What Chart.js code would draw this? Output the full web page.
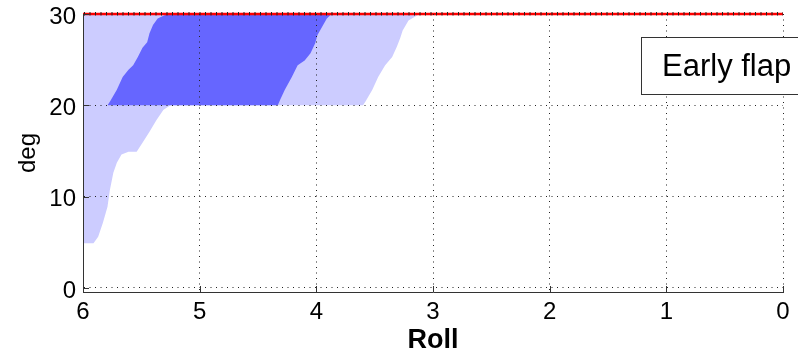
<!DOCTYPE html>
<html>
<head>
<meta charset="utf-8">
<script src="https://cdn.jsdelivr.net/npm/chart.js@4.4.0/dist/chart.umd.min.js"></script>
<style>
  html, body { margin: 0; padding: 0; background: #fff; }
  canvas { display: block; }
</style>
</head>
<body>
<canvas id="c" width="798" height="354"></canvas>
<script>
// Axis ticks
const xTicks = [6, 5, 4, 3, 2, 1, 0];
const yTicks = [0, 10, 20, 30];

// Outer (light) envelope: lower edge, filled up to the 30 deg limit
const lightEdgeRoll = [6, 5.91, 5.87, 5.83, 5.79, 5.77, 5.74, 5.71, 5.67, 5.61, 5.54, 5.49, 5.43, 5.37, 5.31, 5.25,
                       3.60, 3.58, 3.52, 3.47, 3.41, 3.35, 3.31, 3.28, 3.26, 3.21, 3.17, 3.13, 3.10];
const lightEdgeDeg  = [4.9, 4.9, 5.6, 7.1, 8.9, 10.7, 12.6, 13.7, 14.6, 14.9, 14.9, 15.9, 17.1, 18.4, 19.5, 20,
                       20, 20.4, 21.7, 23.1, 24.4, 25.3, 26.4, 27.4, 28.2, 29.3, 29.6, 29.9, 30];

// Inner (dark) band: upper edge
const darkTopRoll = [5.79, 5.77, 5.71, 5.66, 5.61, 5.57, 5.53, 5.49, 5.45, 5.43, 5.40, 5.36, 5.31, 5.28, 3.87];
const darkTopDeg  = [20, 20.4, 21.7, 23.1, 23.9, 24.4, 25.3, 26.3, 26.9, 27.9, 28.8, 29.5, 29.8, 30, 30];

// Inner (dark) band: lower edge
const darkBaseRoll = [5.79, 4.33, 4.31, 4.27, 4.21, 4.16, 4.10, 4.05, 4.01, 3.99, 3.95, 3.91, 3.87];
const darkBaseDeg  = [20, 20, 20.6, 21.7, 23.1, 24.4, 24.9, 25.7, 26.8, 27.7, 28.6, 29.5, 30];

// Flap limit line
const limitRoll = [6, 0];
const limitDeg  = [30, 30];

const noteText = 'Early flap';
const FONT = "'Liberation Sans', Arial, Helvetica, sans-serif";

const pts = (xs, ys) => xs.map((x, i) => ({ x, y: ys[i] }));

// Short inward tick marks on the left and bottom axes
const innerTicks = {
  id: 'innerTicks',
  afterDraw(chart) {
    const { ctx, chartArea: a, scales: { x, y } } = chart;
    ctx.save();
    ctx.strokeStyle = '#333';
    ctx.lineWidth = 1;
    ctx.beginPath();
    yTicks.forEach(v => {
      const py = Math.round(y.getPixelForValue(v)) + 0.5;
      ctx.moveTo(a.left, py); ctx.lineTo(a.left + 6, py);
    });
    xTicks.forEach(v => {
      const px = Math.round(x.getPixelForValue(v)) + 0.5;
      ctx.moveTo(px, a.bottom); ctx.lineTo(px, a.bottom - 6);
    });
    ctx.stroke();
    ctx.restore();
  }
};

// Boxed note at upper right
const noteBox = {
  id: 'noteBox',
  afterDraw(chart) {
    const ctx = chart.ctx;
    ctx.save();
    ctx.fillStyle = '#fff';
    ctx.strokeStyle = '#333';
    ctx.lineWidth = 1;
    ctx.fillRect(641.5, 37.5, 200, 57);
    ctx.strokeRect(641.5, 37.5, 200, 57);
    ctx.fillStyle = '#000';
    ctx.font = '31px ' + FONT;
    ctx.textBaseline = 'alphabetic';
    ctx.textAlign = 'left';
    ctx.fillText(noteText, 662, 76);
    ctx.restore();
  }
};

new Chart(document.getElementById('c'), {
  type: 'line',
  data: {
    datasets: [
      {
        data: pts(lightEdgeRoll, lightEdgeDeg),
        borderWidth: 0, pointRadius: 0,
        backgroundColor: '#ccccff',
        fill: { value: 30 },
        order: 3
      },
      {
        data: pts(darkTopRoll, darkTopDeg),
        borderWidth: 0, pointRadius: 0,
        backgroundColor: '#6666ff',
        fill: '+1',
        order: 2
      },
      {
        data: pts(darkBaseRoll, darkBaseDeg),
        borderWidth: 0, pointRadius: 0,
        backgroundColor: 'rgba(0,0,0,0)',
        fill: false,
        order: 2
      },
      {
        data: pts(limitRoll, limitDeg),
        borderColor: '#ff0000', borderWidth: 2.5,
        pointRadius: 0, fill: false,
        clip: 4,
        order: 0
      }
    ]
  },
  options: {
    responsive: false,
    animation: false,
    events: [],
    layout: { padding: { left: 0, right: 15, top: 14, bottom: 0 } },
    plugins: { legend: { display: false }, tooltip: { enabled: false } },
    scales: {
      x: {
        type: 'linear', reverse: true, min: 0, max: 6,
        afterBuildTicks: s => { s.ticks = xTicks.map(v => ({ value: v })); },
        afterFit: s => { s.height = 62; s.paddingLeft = 0; s.paddingRight = 0; },
        ticks: { color: '#000', padding: 6, font: { family: FONT, size: 24 } },
        grid: { color: '#222', lineWidth: 1, drawTicks: false, z: 1 },
        border: { display: true, color: '#333', width: 1, dash: [1, 4.5], z: 1 },
        title: {
          display: true, text: 'Roll', color: '#000',
          font: { family: FONT, size: 27, weight: 'bold' },
          padding: { top: 0, bottom: -3 }
        }
      },
      y: {
        type: 'linear', min: -0.45, max: 30,
        afterBuildTicks: s => { s.ticks = yTicks.map(v => ({ value: v })); },
        afterFit: s => { s.width = 83; s.paddingTop = 0; s.paddingBottom = 0; },
        ticks: { color: '#000', padding: 7, labelOffset: 3, font: { family: FONT, size: 24 } },
        grid: {
          color: '#222', drawTicks: false, z: 1,
          lineWidth: c => (c.tick && c.tick.value === 30 ? 3.5 : 1)
        },
        border: { display: true, color: '#333', width: 1, dash: [1, 4.5], z: 1 },
        title: {
          display: true, text: 'deg', color: '#000',
          font: { family: FONT, size: 24 },
          padding: { top: 14, bottom: 0 }
        }
      }
    }
  },
  plugins: [innerTicks, noteBox]
});
</script>
</body>
</html>
